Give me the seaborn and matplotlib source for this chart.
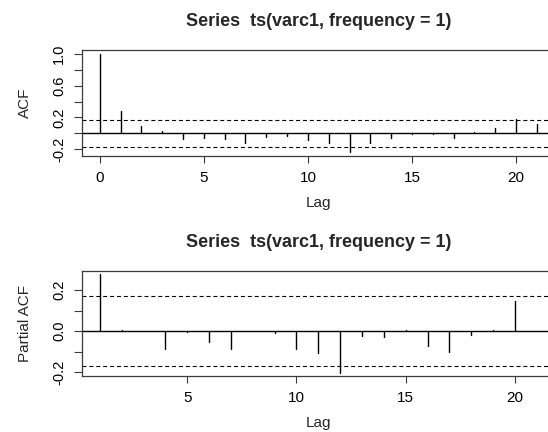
import numpy as np
import pandas as pd
import matplotlib
matplotlib.use("Agg")
import matplotlib.pyplot as plt
import seaborn as sns

# ---- data ----
acf_lags = list(range(0, 22))
acf_vals = [1.0, 0.278, 0.09, 0.025, -0.072, -0.065, -0.072, -0.12, -0.053, -0.036,
            -0.09, -0.125, -0.235, -0.125, -0.055, -0.005, -0.012, -0.055, 0.017,
            0.06, 0.178, 0.12]
pacf_lags = list(range(1, 22))
pacf_vals = [0.278, 0.007, 0.002, -0.085, -0.005, -0.052, -0.088, 0.002, -0.008,
             -0.088, -0.105, -0.203, -0.024, -0.029, 0.005, -0.072, -0.103, -0.017,
             0.005, 0.148, 0.003]
conf_limit = 0.171
title_text = "Series  ts(varc1, frequency = 1)"
acf_yticks = [-0.2, 0.0, 0.2, 0.4, 0.6, 0.8, 1.0]
acf_yticklabels = ["-0.2", "", "0.2", "", "0.6", "", "1.0"]
acf_xticks = [0, 5, 10, 15, 20]
pacf_yticks = [-0.2, -0.1, 0.0, 0.1, 0.2]
pacf_yticklabels = ["-0.2", "", "0.0", "", "0.2"]
pacf_xticks = [5, 10, 15, 20]

sns.set_theme(style="white")
plt.rcParams['font.family'] = ['Liberation Sans', 'DejaVu Sans']

W, H = 548, 432
fig = plt.figure(figsize=(W / 100, H / 100), dpi=100)
fig.patch.set_facecolor("white")

def stems_frame(lags, vals):
    rows = []
    for l, v in zip(lags, vals):
        rows.append({"lag": l, "val": 0.0, "unit": l})
        rows.append({"lag": l, "val": v, "unit": l})
    return pd.DataFrame(rows)

frame_col = "#3a3a3a"

def draw(ax, lags, vals, ylab, xlim, ylim, xticks, yticks, yticklabels):
    df = stems_frame(lags, vals)
    sns.lineplot(data=df, x="lag", y="val", units="unit", estimator=None,
                 sort=False, color="black", linewidth=1.0, ax=ax, legend=False)
    ax.axhline(0, color="black", linewidth=1.0)
    for c in (conf_limit, -conf_limit):
        ax.axhline(c, color="black", linewidth=0.8, linestyle=(0, (3.6, 2.6)))
    ax.set_xlim(*xlim)
    ax.set_ylim(*ylim)
    ax.set_xticks(xticks)
    ax.set_xticklabels([str(t) for t in xticks])
    ax.set_yticks(yticks)
    ax.set_yticklabels(yticklabels, rotation=90, va="center")
    ax.tick_params(axis="y", direction="out", length=5.8, width=0.8, colors=frame_col,
                   labelcolor="black", labelsize=10.5, pad=6)
    ax.tick_params(axis="x", direction="out", length=4.7, width=0.8, colors=frame_col,
                   labelcolor="black", labelsize=11, pad=6)
    ax.tick_params(left=True, bottom=True)
    for s in ax.spines.values():
        s.set_visible(True)
        s.set_color(frame_col)
        s.set_linewidth(0.9)
    ax.set_ylabel(ylab, fontsize=11, labelpad=14)
    ax.set_xlabel("Lag", fontsize=11, labelpad=8)
    ax.set_title(title_text, fontsize=13, fontweight="bold", pad=17)
    ax.grid(False)

ax1 = fig.add_axes([82.3 / W, 1 - 156 / H, 472 / W, 106 / H])
draw(ax1, acf_lags, acf_vals, "ACF", (-0.84, 21.84), (-0.287, 1.05),
     acf_xticks, acf_yticks, acf_yticklabels)

ax2 = fig.add_axes([82.3 / W, 1 - 376.3 / H, 472 / W, 105.6 / H])
draw(ax2, pacf_lags, pacf_vals, "Partial ACF", (0.2, 21.8), (-0.22, 0.295),
     pacf_xticks, pacf_yticks, pacf_yticklabels)

fig.savefig("out.png", dpi=100, facecolor="white")
